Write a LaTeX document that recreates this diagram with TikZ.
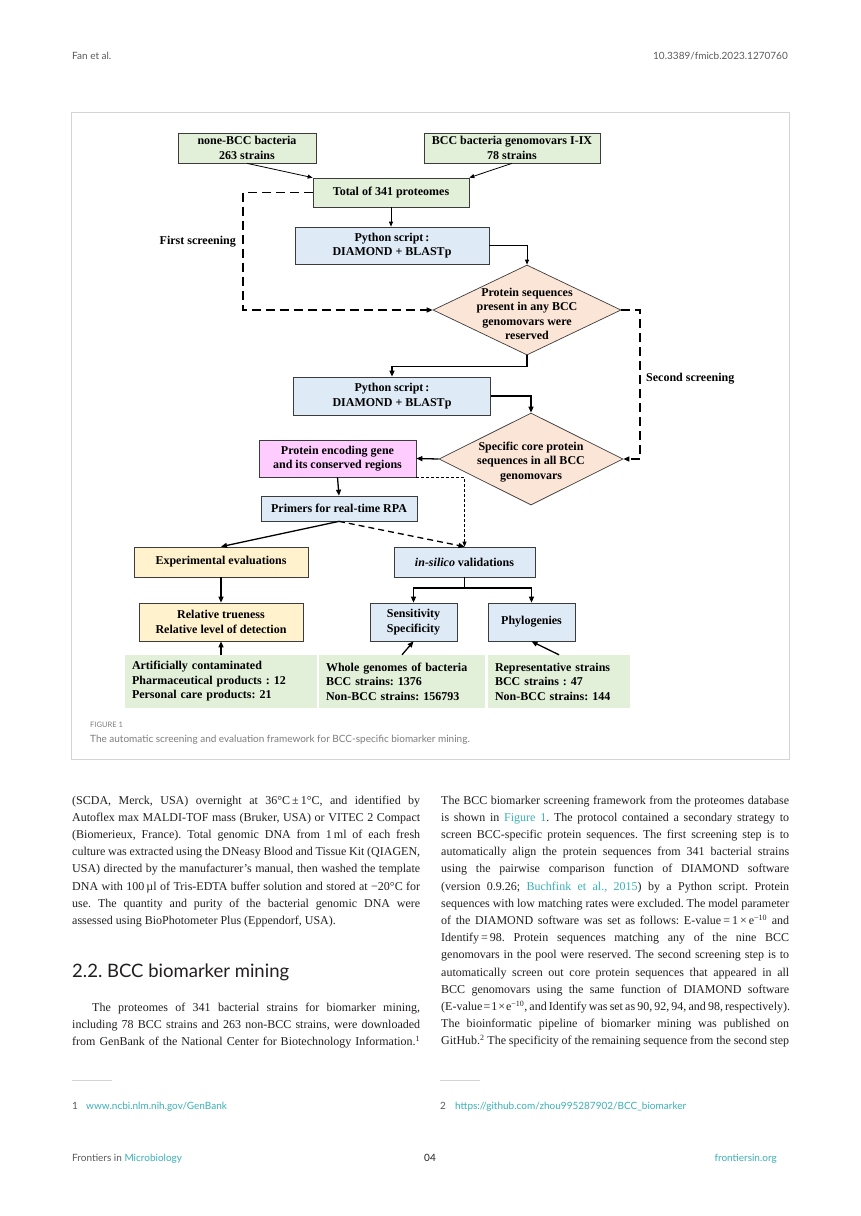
\documentclass[tikz,border=0pt]{standalone}
\usepackage{fontspec}
\setmainfont{Liberation Serif}
\setsansfont{Lato}
\usetikzlibrary{shapes.geometric, arrows.meta}
\frenchspacing

\definecolor{boxline}{RGB}{60,60,60}
\definecolor{grfill}{RGB}{226,240,217}
\definecolor{blfill}{RGB}{222,235,247}
\definecolor{pkfill}{RGB}{251,229,214}
\definecolor{mgfill}{RGB}{255,204,255}
\definecolor{ylfill}{RGB}{255,242,204}
\definecolor{framegray}{RGB}{212,212,212}
\definecolor{capgray}{RGB}{125,125,125}
\definecolor{hdgray}{RGB}{90,90,90}
\definecolor{linkteal}{RGB}{58,176,184}
\definecolor{inkblack}{RGB}{35,31,32}

\newcommand{\figtext}{\bfseries\fontsize{12}{14.5}\selectfont}
\newcommand{\bodytext}{\fontsize{12}{17.2}\selectfont}
\newcommand{\sanstext}{\sffamily\fontsize{10}{12}\selectfont}
\newcommand{\fullrow}[1]{\hbox to\hsize{#1}}
\newcommand{\lastrow}[1]{\hbox{#1}}

\begin{document}
\begin{tikzpicture}[x=1pt, y=-1pt,
    procbox/.style={draw=boxline, line width=0.7pt, align=center, font=\figtext, inner sep=1pt},
    decbox/.style={diamond, draw=boxline, line width=0.7pt, fill=pkfill, inner sep=0pt},
    inbox/.style={fill=grfill, align=left, font=\figtext, text width=#1, inner xsep=7pt, minimum height=53pt},
    note/.style={font=\figtext, align=center, inner sep=0pt},
    flowthin/.style={-{Triangle[length=5pt,width=4pt]}, line width=0.8pt},
    flowthick/.style={-{Triangle[length=6pt,width=5pt]}, line width=1.3pt},
    screenline/.style={flowthick, dash pattern=on 9pt off 5pt},
    page/.style={font=\sanstext, text=hdgray, inner sep=0pt},
    bodypar/.style={font=\bodytext, text=inkblack, inner sep=0pt, anchor=base west},
  ]
  \fill[white] (0,0) rectangle (860,1216);

  % running head
  \node[page, anchor=base west] (head) at (72,59) {Fan et al.};
  \node[page, anchor=base east] (doi) at (788,59) {10.3389/fmicb.2023.1270760};

  % figure 1
  \draw[framegray, line width=0.8pt] (71,112) rectangle (789,759);

  \node[procbox, fill=grfill, minimum width=138pt, minimum height=30pt] (nonbcc) at (247,148) {none-BCC bacteria\\263 strains};
  \node[procbox, fill=grfill, minimum width=176pt, minimum height=30pt] (bccgv) at (512,148) {BCC bacteria genomovars I-IX\\78 strains};
  \node[procbox, fill=grfill, minimum width=156pt, minimum height=29pt] (total) at (391,192.5) {Total of 341 proteomes};
  \node[procbox, fill=blfill, minimum width=194pt, minimum height=37pt] (py1) at (392,245.5) {Python script\,:\\DIAMOND + BLASTp};
  \node[decbox, minimum width=188pt, minimum height=90pt] (cd1) at (527,310) {};
  \node[note] (cd1t) at (527,314) {Protein sequences\\present in any BCC\\genomovars were\\reserved};
  \node[procbox, fill=blfill, minimum width=197pt, minimum height=38pt] (py2) at (392,396) {Python script\,:\\DIAMOND + BLASTp};
  \node[decbox, minimum width=184pt, minimum height=92pt] (cd2) at (531,459) {};
  \node[note] (cd2t) at (531,462) {Specific core protein\\sequences in all BCC\\genomovars};
  \node[procbox, fill=mgfill, minimum width=157pt, minimum height=37pt] (gene) at (337.5,458.5) {Protein encoding gene\\and its conserved regions};
  \node[procbox, fill=blfill, minimum width=156pt, minimum height=25pt] (primer) at (339,508.5) {Primers for real-time RPA};
  \node[procbox, fill=ylfill, minimum width=174pt, minimum height=30pt] (expev) at (221,562) {Experimental evaluations};
  \node[procbox, fill=blfill, minimum width=141pt, minimum height=30pt] (silico) at (464.5,562) {\textit{in-silico} validations};
  \node[procbox, fill=ylfill, minimum width=164pt, minimum height=38pt] (rtrue) at (221,622) {Relative trueness\\Relative level of detection};
  \node[procbox, fill=blfill, minimum width=87pt, minimum height=38pt] (sens) at (413.5,622) {Sensitivity\\Specificity};
  \node[procbox, fill=blfill, minimum width=87pt, minimum height=38pt] (phylo) at (531.5,622) {Phylogenies};
  \node[inbox=178pt] (artif) at (221,681.5) {Artificially contaminated\\Pharmaceutical products : 12\\Personal care products: 21};
  \node[inbox=152pt] (whole) at (402,681.5) {Whole genomes of bacteria\\BCC strains: 1376\\Non-BCC strains: 156793};
  \node[inbox=128pt] (repr) at (559,681.5) {Representative strains\\BCC strains : 47\\Non-BCC strains: 144};

  \node[note, anchor=east] (first) at (236,242) {First screening};
  \node[note, anchor=west] (second) at (646,379) {Second screening};
  \coordinate (fs) at (243,310);
  \coordinate (ss) at (640,459);
  \coordinate (split) at (464.5,588);

  \draw[flowthin] (nonbcc.south) -- (total.north west);
  \draw[flowthin] (bccgv.south) -- (total.north east);
  \draw[flowthin] (total.south) -- (total.south |- py1.north);
  \draw[flowthin] (py1.east) -| (cd1.north);
  \draw[screenline] (total.west) -| (fs) -- (cd1.west);
  \draw[flowthick] (cd1.south) -- ++(0,11) -| (py2.north);
  \draw[flowthick] (py2.east) -| (cd2.north);
  \draw[screenline] (cd1.east) -| (ss) -- (cd2.east);
  \draw[flowthick] (cd2.west) -- (gene.east);
  \draw[flowthick] (gene.south) -- (primer.north);
  \draw[flowthin, dash pattern=on 3pt off 2pt] (gene.south east) -| (silico.north);
  \draw[flowthick] (primer.south) -- (expev.north);
  \draw[flowthick, dash pattern=on 6pt off 4pt] (primer.south) -- (silico.north);
  \draw[flowthick] (expev.south) -- (rtrue.north);
  \draw[line width=1.3pt] (silico.south) -- (split);
  \draw[flowthick] (split) -| (sens.north);
  \draw[flowthick] (split) -| (phylo.north);
  \draw[flowthick] (artif.north) -- (rtrue.south);
  \draw[flowthick] (whole.north) -- (sens.south);
  \draw[flowthick] (repr.north) -- (phylo.south);

  \node[page, anchor=base west, text=capgray, font=\sffamily\fontsize{7.5}{9}\selectfont] (figlab) at (90,727) {FIGURE 1};
  \node[page, anchor=base west, text=capgray] (figcap) at (90,742) {The automatic screening and evaluation framework for BCC-specific biomarker mining.};

  % body text, left column
  \node[bodypar] (lpar1) at (72,804) {\vtop{\hsize=348pt\bodytext
    \fullrow{(SCDA, Merck, USA) overnight at 36°C\,±\,1°C, and identified by}
    \fullrow{Autoflex max MALDI-TOF mass (Bruker, USA) or VITEC 2 Compact}
    \fullrow{(Biomerieux, France). Total genomic DNA from 1\,ml of each fresh}
    \fullrow{culture was extracted using the DNeasy Blood and Tissue Kit (QIAGEN,}
    \fullrow{USA) directed by the manufacturer’s manual, then washed the template}
    \fullrow{DNA with 100\,µl of Tris-EDTA buffer solution and stored at −20°C for}
    \fullrow{use. The quantity and purity of the bacterial genomic DNA were}
    \lastrow{assessed using BioPhotometer Plus (Eppendorf, USA).}}};
  \node[bodypar, font=\sffamily\fontsize{18.5}{22}\selectfont] (sect) at (72,977) {2.2. BCC biomarker mining};
  \node[bodypar] (lpar2) at (72,1011) {\vtop{\hsize=348pt\bodytext
    \fullrow{\kern20pt The proteomes of 341 bacterial strains for biomarker mining,}
    \fullrow{including 78 BCC strains and 263 non-BCC strains, were downloaded}
    \fullrow{from GenBank of the National Center for Biotechnology Information.\textsuperscript{1}}}};

  % body text, right column
  \node[bodypar] (rpar) at (441,804) {\vtop{\hsize=348pt\bodytext
    \fullrow{The BCC biomarker screening framework from the proteomes database}
    \fullrow{is shown in {\color{linkteal}Figure 1}. The protocol contained a secondary strategy to}
    \fullrow{screen BCC-specific protein sequences. The first screening step is to}
    \fullrow{automatically align the protein sequences from 341 bacterial strains}
    \fullrow{using the pairwise comparison function of DIAMOND software}
    \fullrow{(version 0.9.26; {\color{linkteal}Buchfink et al., 2015}) by a Python script. Protein}
    \fullrow{sequences with low matching rates were excluded. The model parameter}
    \fullrow{of the DIAMOND software was set as follows: E-value\,=\,1\,×\,e\textsuperscript{−10} and}
    \fullrow{Identify\,=\,98. Protein sequences matching any of the nine BCC}
    \fullrow{genomovars in the pool were reserved. The second screening step is to}
    \fullrow{automatically screen out core protein sequences that appeared in all}
    \fullrow{BCC genomovars using the same function of DIAMOND software}
    \fullrow{\spaceskip=2.6pt minus 0.5pt (E-value\kern1pt=\kern1pt1\kern1pt×\kern1pt e\textsuperscript{−10}, and Identify was set as 90, 92, 94, and 98, respectively).}
    \fullrow{The bioinformatic pipeline of biomarker mining was published on}
    \fullrow{GitHub.\textsuperscript{2} The specificity of the remaining sequence from the second step}}};

  % footnotes
  \draw[framegray, line width=0.6pt] (72,1080) -- (112,1080);
  \draw[framegray, line width=0.6pt] (440,1080) -- (480,1080);
  \node[page, anchor=base west] (fn1) at (72,1109) {\makebox[14pt][l]{1}{\color{linkteal}www.ncbi.nlm.nih.gov/GenBank}};
  \node[page, anchor=base west] (fn2) at (440,1109) {\makebox[15pt][l]{2}{\color{linkteal}https://github.com/zhou995287902/BCC\_biomarker}};

  % running foot
  \node[page, anchor=base west] (journal) at (72,1161) {Frontiers in {\color{linkteal}Microbiology}};
  \node[page, anchor=base, text=inkblack] (pageno) at (430,1161) {04};
  \node[page, anchor=base east, text=linkteal] (site) at (777,1161) {frontiersin.org};
\end{tikzpicture}
\end{document}
